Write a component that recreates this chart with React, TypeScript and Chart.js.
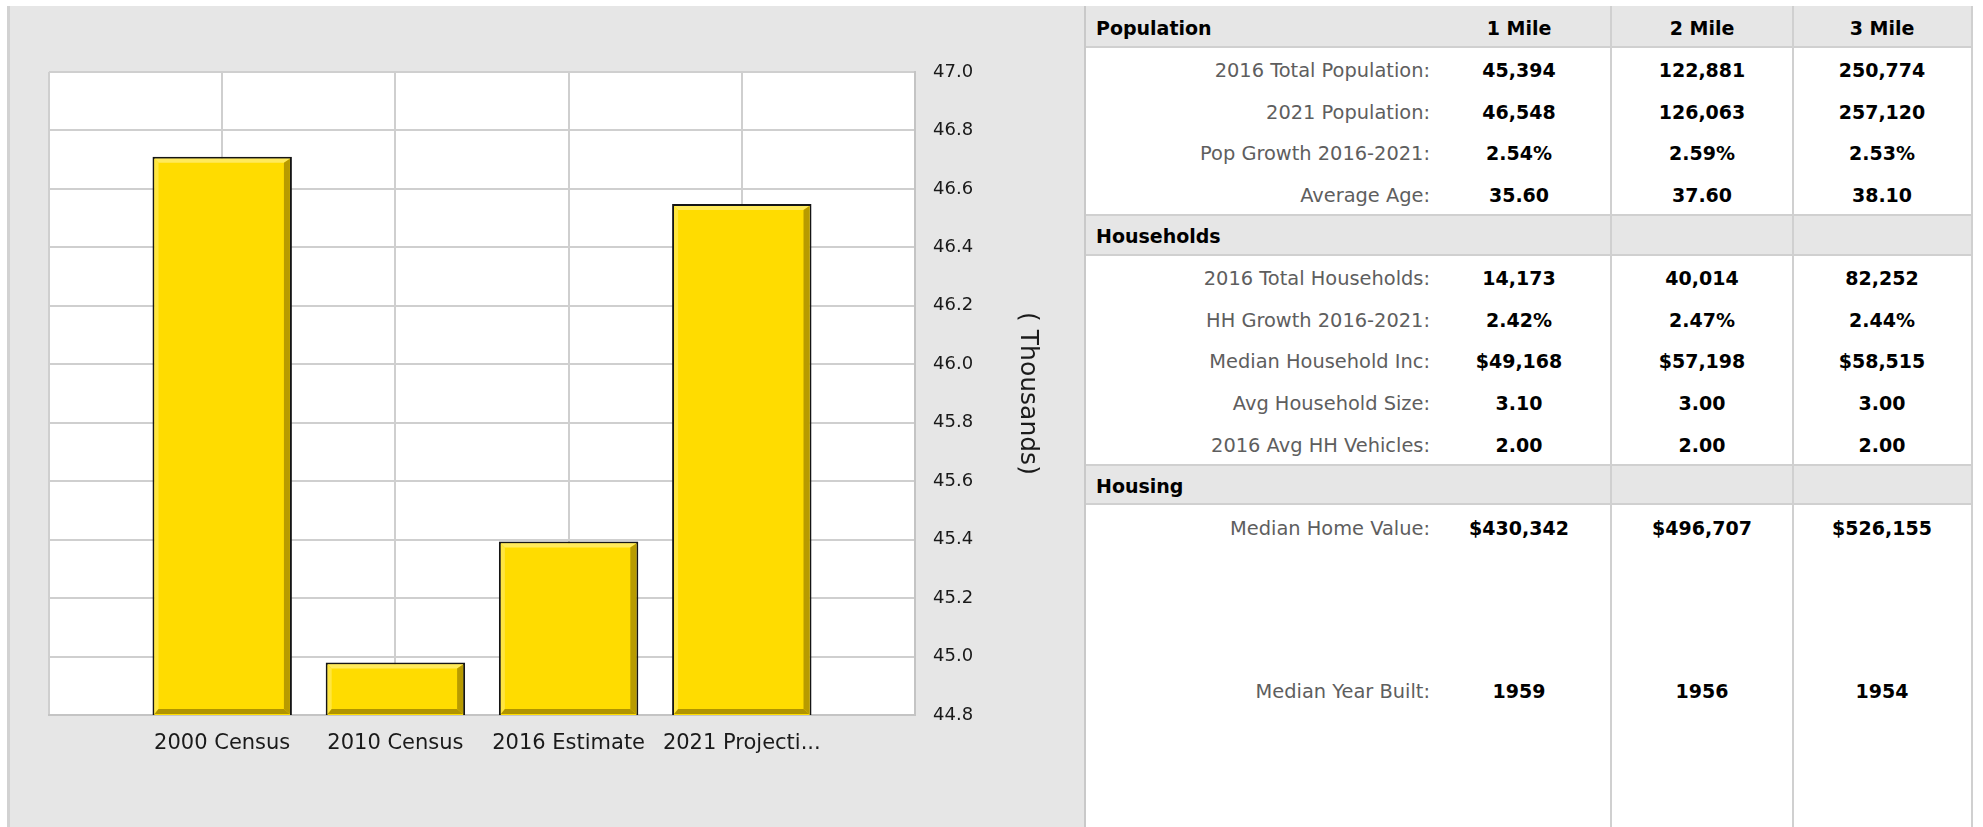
import React, { useEffect, useRef } from 'react';
import { Chart, registerables } from 'chart.js';

Chart.register(...registerables);

// ---------- chart data ----------
const categories = ['2000 Census', '2010 Census', '2016 Estimate', '2021 Projecti...'];
const populationThousands = [46.71, 44.98, 45.394, 46.548];
const yMin = 44.8;
const yMax = 47.0;
const yStep = 0.2;
const yAxisTitle = '( Thousands)';

// ---------- table data ----------
const mileColumns = ['1 Mile', '2 Mile', '3 Mile'];

const populationTitle = 'Population';
const populationLabels = ['2016 Total Population:', '2021 Population:', 'Pop Growth 2016-2021:', 'Average Age:'];
const populationMile1 = ['45,394', '46,548', '2.54%', '35.60'];
const populationMile2 = ['122,881', '126,063', '2.59%', '37.60'];
const populationMile3 = ['250,774', '257,120', '2.53%', '38.10'];

const householdsTitle = 'Households';
const householdsLabels = ['2016 Total Households:', 'HH Growth 2016-2021:', 'Median Household Inc:', 'Avg Household Size:', '2016 Avg HH Vehicles:'];
const householdsMile1 = ['14,173', '2.42%', '$49,168', '3.10', '2.00'];
const householdsMile2 = ['40,014', '2.47%', '$57,198', '3.00', '2.00'];
const householdsMile3 = ['82,252', '2.44%', '$58,515', '3.00', '2.00'];

const housingTitle = 'Housing';
const housingLabels = ['Median Home Value:', 'Median Year Built:'];
const housingMile1 = ['$430,342', '1959'];
const housingMile2 = ['$496,707', '1956'];
const housingMile3 = ['$526,155', '1954'];

const FONT = "'DejaVu Sans', Verdana, sans-serif";

const plotBgPlugin = {
  id: 'plotBg',
  beforeDraw(chart: any) {
    const { ctx, chartArea } = chart;
    if (!chartArea) return;
    ctx.save();
    ctx.fillStyle = '#ffffff';
    ctx.fillRect(chartArea.left, chartArea.top, chartArea.right - chartArea.left, chartArea.bottom - chartArea.top);
    ctx.restore();
  },
};

const bevelPlugin = {
  id: 'bevel',
  afterDatasetsDraw(chart: any) {
    const ctx = chart.ctx;
    const area = chart.chartArea;
    const meta = chart.getDatasetMeta(0);
    const values = chart.data.datasets[0].data;
    ctx.save();
    ctx.beginPath();
    ctx.rect(area.left, area.top, area.right - area.left, area.bottom - area.top);
    ctx.clip();
    meta.data.forEach((bar: any, i: number) => {
      if (values[i] == null) return;
      const { x, y, width } = bar.getProps(['x', 'y', 'width'], true);
      if (!isFinite(x) || !isFinite(y)) return;
      const bw = 2;
      const L = x - width / 2 + bw;
      const R = x + width / 2 - bw;
      const T = y + bw;
      const B = area.bottom - 1;
      const tl = 4;
      const tr = 6;
      const tb = 5;
      const poly = (pts: number[][], color: string) => {
        ctx.beginPath();
        ctx.moveTo(pts[0][0], pts[0][1]);
        for (let k = 1; k < pts.length; k++) ctx.lineTo(pts[k][0], pts[k][1]);
        ctx.closePath();
        ctx.fillStyle = color;
        ctx.fill();
      };
      poly([[L, T], [R, T], [R - tr, T + tl], [L + tl, T + tl]], '#ffea5c');
      poly([[L, T], [L + tl, T + tl], [L + tl, B - tb], [L, B]], '#ffe640');
      poly([[R, T], [R, B], [R - tr, B - tb], [R - tr, T + tl]], '#b89b00');
      poly([[L, B], [R, B], [R - tr, B - tb], [L + tl, B - tb]], '#b09400');
    });
    ctx.restore();
  },
};

function ChartPanel() {
  const ref = useRef<HTMLCanvasElement | null>(null);
  useEffect(() => {
    const labels = ['', ...categories, ''];
    const data = [null, ...populationThousands, null];
    const chart = new Chart(ref.current as HTMLCanvasElement, {
      type: 'bar',
      data: {
        labels,
        datasets: [
          {
            data: data as any,
            backgroundColor: '#ffdc00',
            borderColor: '#151515',
            borderWidth: 2,
            borderSkipped: 'bottom',
            barPercentage: 0.805,
            categoryPercentage: 1,
          },
        ],
      },
      options: {
        animation: false,
        responsive: false,
        devicePixelRatio: 1,
        layout: { padding: { left: 39, top: 66, right: 29, bottom: 52 } },
        plugins: { legend: { display: false }, tooltip: { enabled: false }, title: { display: false } },
        scales: {
          x: {
            type: 'category',
            offset: false,
            grid: { offset: false, color: '#cfcfcf', lineWidth: 2, drawTicks: false },
            border: { display: true, color: '#c4c4c4', width: 2 },
            ticks: {
              autoSkip: false,
              maxRotation: 0,
              minRotation: 0,
              padding: 16,
              color: '#1a1a1a',
              font: { family: FONT, size: 21 },
            },
            afterFit: (s: any) => {
              s.height = 60;
            },
          },
          y: {
            type: 'linear',
            position: 'right',
            min: yMin,
            max: yMax,
            grid: { color: '#cfcfcf', lineWidth: 2, drawTicks: false },
            border: { display: true, color: '#c4c4c4', width: 2 },
            ticks: {
              stepSize: yStep,
              padding: 18,
              color: '#1a1a1a',
              font: { family: FONT, size: 18 },
              callback: (v: any) => Number(v).toFixed(1),
            },
            title: {
              display: true,
              text: yAxisTitle,
              color: '#1a1a1a',
              font: { family: FONT, size: 25 },
              padding: { top: 13, bottom: 0 },
            },
            afterFit: (s: any) => {
              s.width = 140;
            },
          },
        },
      },
      plugins: [plotBgPlugin, bevelPlugin],
    });
    return () => chart.destroy();
  }, []);
  return (
    <canvas
      ref={ref}
      width={1074}
      height={821}
      style={{ position: 'absolute', left: 10, top: 6, width: 1074, height: 821 }}
    />
  );
}

const TABLE_LEFT = 1086;
const TABLE_RIGHT = 1972;
const ROW_H = 41.6;
const TOP0 = 6;
const LABEL_RIGHT = 1430;
const COL_CENTERS = [1519, 1702, 1882];

type Item =
  | { kind: 'band'; title: string; showMiles: boolean }
  | { kind: 'row'; label: string; values: string[]; height?: number };

function buildItems(): Item[] {
  const items: Item[] = [];
  items.push({ kind: 'band', title: populationTitle, showMiles: true });
  populationLabels.forEach((l, i) =>
    items.push({ kind: 'row', label: l, values: [populationMile1[i], populationMile2[i], populationMile3[i]] })
  );
  items.push({ kind: 'band', title: householdsTitle, showMiles: false });
  householdsLabels.forEach((l, i) =>
    items.push({ kind: 'row', label: l, values: [householdsMile1[i], householdsMile2[i], householdsMile3[i]] })
  );
  items.push({ kind: 'band', title: housingTitle, showMiles: false });
  housingLabels.forEach((l, i) =>
    items.push({
      kind: 'row',
      label: l,
      values: [housingMile1[i], housingMile2[i], housingMile3[i]],
      height: i === housingLabels.length - 1 ? 285 : undefined,
    })
  );
  return items;
}

function DataTable() {
  const items = buildItems();
  const out: any[] = [];
  let top = TOP0;
  items.forEach((it, idx) => {
    const h = it.kind === 'row' && it.height ? it.height : ROW_H;
    if (it.kind === 'band') {
      out.push(
        <div
          key={'b' + idx}
          style={{
            position: 'absolute',
            left: TABLE_LEFT,
            top,
            width: TABLE_RIGHT - TABLE_LEFT,
            height: h,
            background: '#e6e6e6',
            borderTop: idx === 0 ? 'none' : '2px solid #d0d0d0',
            borderBottom: '2px solid #d0d0d0',
            boxSizing: 'border-box',
          }}
        />
      );
      out.push(
        <div
          key={'bt' + idx}
          style={{
            position: 'absolute',
            left: TABLE_LEFT + 10,
            top: top + 2,
            height: h,
            lineHeight: h + 'px',
            fontWeight: 'bold',
            color: '#000',
            fontSize: 19,
            whiteSpace: 'nowrap',
          }}
        >
          {it.title}
        </div>
      );
      if (it.showMiles) {
        mileColumns.forEach((m, c) =>
          out.push(
            <div
              key={'m' + idx + '_' + c}
              style={{
                position: 'absolute',
                left: COL_CENTERS[c] - 90,
                width: 180,
                top: top + 2,
                height: h,
                lineHeight: h + 'px',
                textAlign: 'center',
                fontWeight: 'bold',
                color: '#000',
                fontSize: 19,
                whiteSpace: 'nowrap',
              }}
            >
              {m}
            </div>
          )
        );
      }
    } else {
      out.push(
        <div
          key={'l' + idx}
          style={{
            position: 'absolute',
            left: TABLE_LEFT,
            width: LABEL_RIGHT - TABLE_LEFT,
            top: top + 2.5,
            height: h,
            lineHeight: h + 'px',
            textAlign: 'right',
            color: '#5e5e5e',
            fontSize: 19.4,
            whiteSpace: 'nowrap',
          }}
        >
          {it.label}
        </div>
      );
      it.values.forEach((v, c) =>
        out.push(
          <div
            key={'v' + idx + '_' + c}
            style={{
              position: 'absolute',
              left: COL_CENTERS[c] - 90,
              width: 180,
              top: top + 2.5,
              height: h,
              lineHeight: h + 'px',
              textAlign: 'center',
              fontWeight: 'bold',
              color: '#000',
              fontSize: 19,
              whiteSpace: 'nowrap',
            }}
          >
            {v}
          </div>
        )
      );
    }
    top += h;
  });
  return <>{out}</>;
}

export default function App() {
  return (
    <div
      style={{
        position: 'absolute',
        left: 0,
        top: 0,
        width: 1983,
        height: 827,
        background: '#ffffff',
        overflow: 'hidden',
        fontFamily: FONT,
      }}
    >
      <div style={{ position: 'absolute', left: 7, top: 6, width: 3, height: 821, background: '#d2d2d2' }} />
      <div style={{ position: 'absolute', left: 10, top: 6, width: 1074, height: 821, background: '#e6e6e6' }} />
      <ChartPanel />
      <div style={{ position: 'absolute', left: 1084, top: 6, width: 2, height: 821, background: '#c9c9c9' }} />
      <DataTable />
      <div style={{ position: 'absolute', left: 1610, top: 6, width: 2, height: 821, background: '#d0d0d0' }} />
      <div style={{ position: 'absolute', left: 1792, top: 6, width: 2, height: 821, background: '#d0d0d0' }} />
      <div style={{ position: 'absolute', left: 1971, top: 6, width: 2, height: 821, background: '#d0d0d0' }} />
    </div>
  );
}
